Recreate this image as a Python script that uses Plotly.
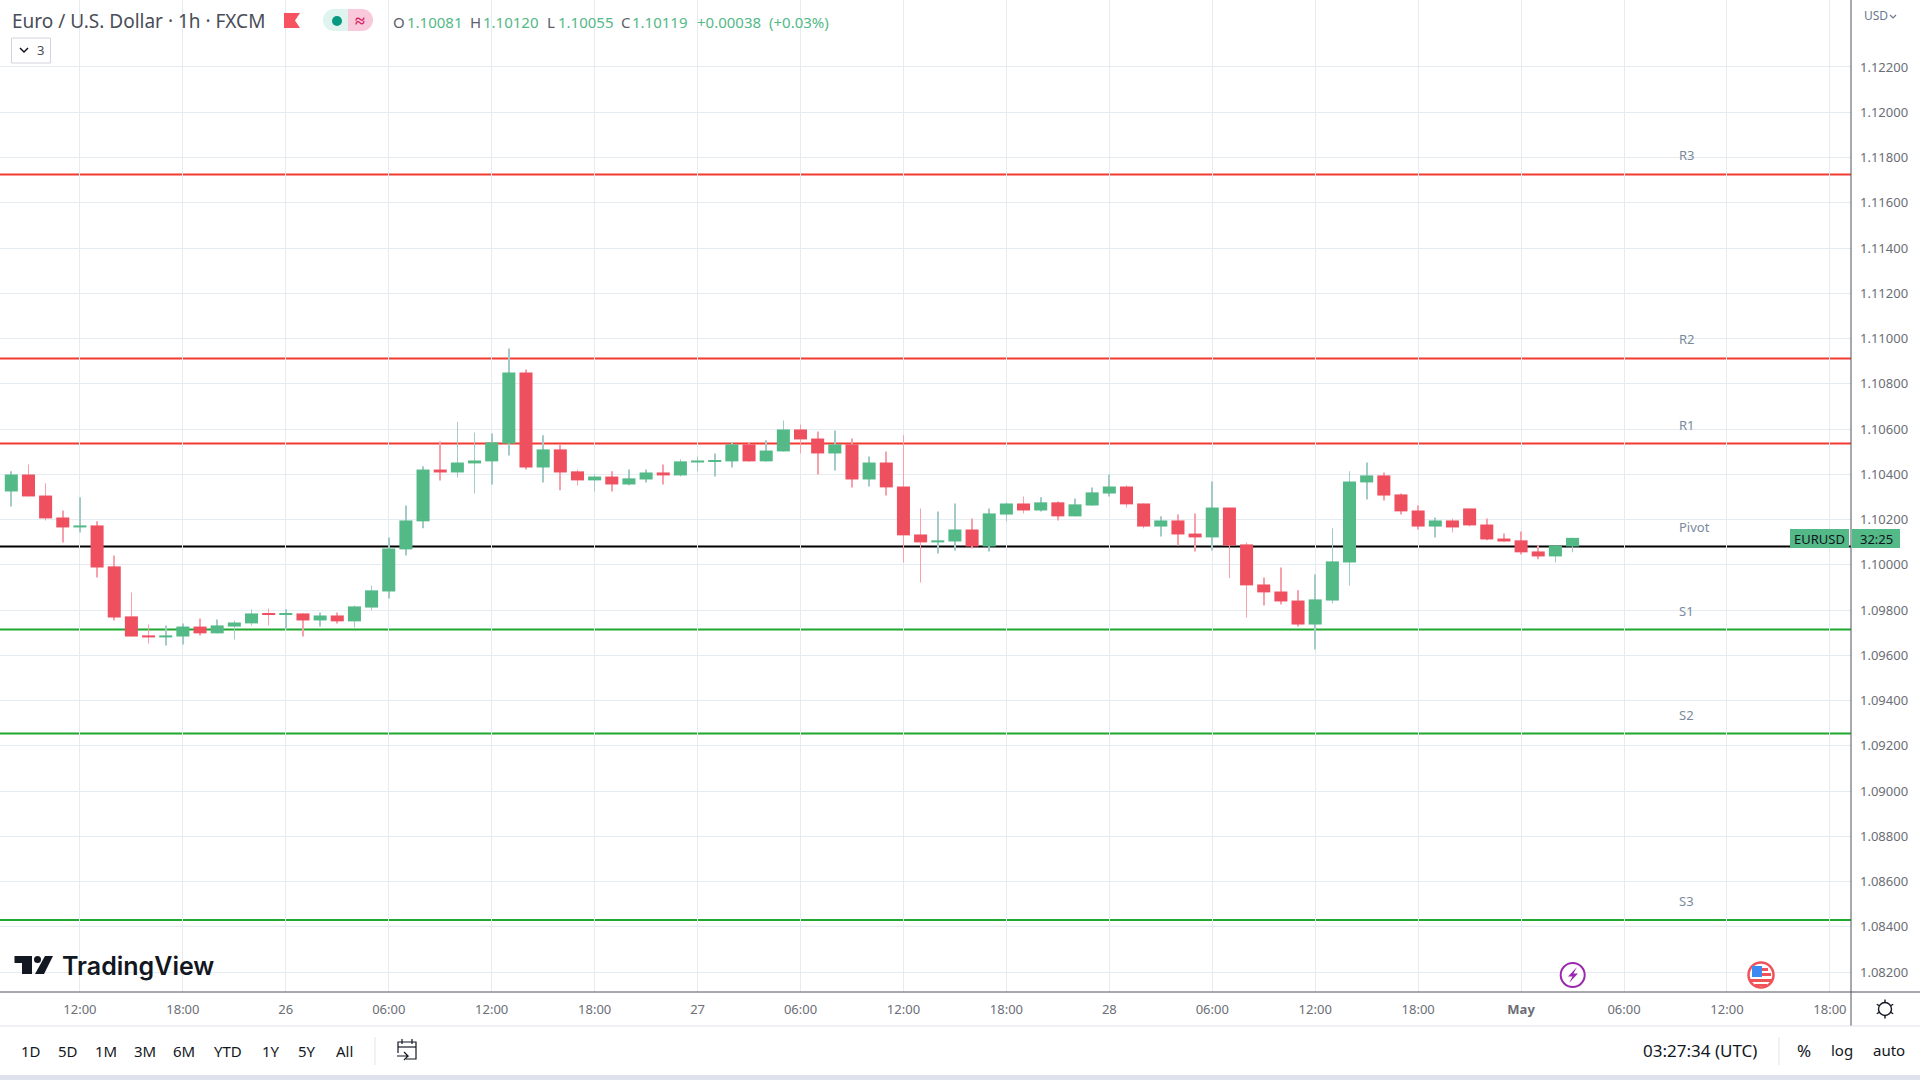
import math
import plotly.graph_objects as go

# EURUSD 1h candles
opens = [1.10324, 1.10399, 1.10306, 1.10209, 1.10165, 1.10174, 1.09993, 1.09772, 1.09688, 1.09679,
         1.09683, 1.09727, 1.09697, 1.09727, 1.09741, 1.09785, 1.09780, 1.09785, 1.09754, 1.09776,
         1.09750, 1.09811, 1.09882, 1.10068, 1.10192, 1.10421, 1.10408, 1.10448, 1.10457, 1.10536,
         1.10850, 1.10430, 1.10510, 1.10413, 1.10373, 1.10390, 1.10355, 1.10377, 1.10408, 1.10395,
         1.10452, 1.10457, 1.10457, 1.10532, 1.10457, 1.10501, 1.10598, 1.10558, 1.10492, 1.10532,
         1.10377, 1.10452, 1.10346, 1.10134, 1.10099, 1.10103, 1.10156, 1.10081, 1.10222, 1.10271,
         1.10240, 1.10276, 1.10214, 1.10262, 1.10315, 1.10346, 1.10271, 1.10169, 1.10196, 1.10138,
         1.10121, 1.10253, 1.10090, 1.09913, 1.09882, 1.09842, 1.09736, 1.09842, 1.10010, 1.10364,
         1.10395, 1.10311, 1.10240, 1.10169, 1.10196, 1.10249, 1.10178, 1.10116, 1.10108, 1.10059,
         1.10037, 1.10081]
highs = [1.10413, 1.10443, 1.10360, 1.10240, 1.10298, 1.10192, 1.10041, 1.09878, 1.09736, 1.09732,
         1.09741, 1.09763, 1.09758, 1.09754, 1.09803, 1.09807, 1.09803, 1.09785, 1.09789, 1.09789,
         1.09820, 1.09909, 1.10121, 1.10262, 1.10435, 1.10545, 1.10631, 1.10585, 1.10580, 1.10956,
         1.10863, 1.10572, 1.10532, 1.10421, 1.10399, 1.10413, 1.10421, 1.10421, 1.10443, 1.10466,
         1.10479, 1.10492, 1.10541, 1.10541, 1.10550, 1.10638, 1.10620, 1.10589, 1.10594, 1.10558,
         1.10479, 1.10501, 1.10572, 1.10249, 1.10236, 1.10271, 1.10205, 1.10249, 1.10276, 1.10302,
         1.10298, 1.10280, 1.10293, 1.10342, 1.10399, 1.10351, 1.10271, 1.10214, 1.10222, 1.10227,
         1.10368, 1.10253, 1.10099, 1.09944, 1.09988, 1.09887, 1.09957, 1.10161, 1.10413, 1.10452,
         1.10408, 1.10315, 1.10262, 1.10209, 1.10205, 1.10249, 1.10205, 1.10138, 1.10147, 1.10085,
         1.10085, 1.10120]
lows = [1.10258, 1.10302, 1.10196, 1.10099, 1.10143, 1.09944, 1.09754, 1.09683, 1.09652, 1.09643,
        1.09648, 1.09688, 1.09697, 1.09670, 1.09732, 1.09732, 1.09714, 1.09683, 1.09727, 1.09741,
        1.09723, 1.09798, 1.09851, 1.10041, 1.10161, 1.10373, 1.10386, 1.10315, 1.10355, 1.10483,
        1.10421, 1.10364, 1.10329, 1.10351, 1.10324, 1.10324, 1.10351, 1.10364, 1.10355, 1.10390,
        1.10413, 1.10390, 1.10430, 1.10457, 1.10457, 1.10501, 1.10492, 1.10399, 1.10417, 1.10342,
        1.10346, 1.10306, 1.10010, 1.09922, 1.10050, 1.10063, 1.10072, 1.10059, 1.10192, 1.10227,
        1.10236, 1.10196, 1.10214, 1.10262, 1.10302, 1.10253, 1.10161, 1.10125, 1.10085, 1.10059,
        1.10063, 1.09940, 1.09767, 1.09820, 1.09825, 1.09727, 1.09626, 1.09829, 1.09909, 1.10289,
        1.10284, 1.10222, 1.10156, 1.10121, 1.10143, 1.10169, 1.10108, 1.10103, 1.10046, 1.10024,
        1.10010, 1.10055]
closes = [1.10399, 1.10302, 1.10205, 1.10165, 1.10174, 1.09988, 1.09767, 1.09683, 1.09679, 1.09688,
          1.09727, 1.09697, 1.09732, 1.09745, 1.09785, 1.09780, 1.09785, 1.09754, 1.09776, 1.09750,
          1.09816, 1.09887, 1.10072, 1.10196, 1.10421, 1.10408, 1.10452, 1.10461, 1.10541, 1.10850,
          1.10430, 1.10510, 1.10408, 1.10373, 1.10390, 1.10355, 1.10382, 1.10408, 1.10395, 1.10457,
          1.10461, 1.10461, 1.10532, 1.10457, 1.10505, 1.10598, 1.10554, 1.10492, 1.10532, 1.10377,
          1.10452, 1.10342, 1.10130, 1.10099, 1.10108, 1.10156, 1.10081, 1.10227, 1.10271, 1.10240,
          1.10276, 1.10214, 1.10267, 1.10320, 1.10346, 1.10267, 1.10169, 1.10196, 1.10134, 1.10121,
          1.10253, 1.10085, 1.09909, 1.09878, 1.09838, 1.09736, 1.09847, 1.10015, 1.10368, 1.10395,
          1.10306, 1.10236, 1.10169, 1.10196, 1.10165, 1.10174, 1.10112, 1.10103, 1.10055, 1.10037,
          1.10085, 1.10119]

level_names = ['R3', 'R2', 'R1', 'Pivot', 'S1', 'S2', 'S3']
level_values = [1.11725, 1.10912, 1.10536, 1.10081, 1.09714, 1.09254, 1.08430]
level_colors = ['#f23a31', '#f23a31', '#f23a31', '#000000', '#1ea82f', '#1ea82f', '#1ea82f']

time_tick_pos = [4, 10, 16, 22, 28, 34, 40, 46, 52, 58, 64, 70, 76, 82, 88, 94, 100, 106]
time_tick_text = ['12:00', '18:00', '26', '06:00', '12:00', '18:00', '27', '06:00', '12:00', '18:00',
                  '28', '06:00', '12:00', '18:00', '<b>May</b>', '06:00', '12:00', '18:00']
price_ticks = [1.082, 1.084, 1.086, 1.088, 1.090, 1.092, 1.094, 1.096, 1.098, 1.100, 1.102,
               1.104, 1.106, 1.108, 1.110, 1.112, 1.114, 1.116, 1.118, 1.120, 1.122]

UP, DOWN = '#53b987', '#ef5060'
UP_WICK, DOWN_WICK = '#a3c9c9', '#f7a1ad'
GRID = '#e4ecf1'
FONT = 'Noto Sans'
PLOT_W, PLOT_H = 1851, 992

idx = list(range(len(opens)))
is_up = [c >= o for o, c in zip(opens, closes)]

fig = go.Figure()
# wicks then bodies, plain bars so the wick can have its own paler colour
fig.add_trace(go.Bar(x=idx, base=lows, y=[h - l for h, l in zip(highs, lows)], width=0.04,
                     marker=dict(color=[UP_WICK if u else DOWN_WICK for u in is_up], line_width=0),
                     hoverinfo='skip'))
fig.add_trace(go.Bar(x=idx, base=[min(o, c) for o, c in zip(opens, closes)],
                     y=[abs(c - o) for o, c in zip(opens, closes)], width=0.76,
                     marker=dict(color=[UP if u else DOWN for u in is_up], line_width=0)))


def px(x):
    return x / PLOT_W


def py(y):
    return 1 - y / PLOT_H


def text(x, y, s, size=14, color='#131722', anchor='center', family=FONT, weight='normal'):
    fig.add_annotation(xref='paper', yref='paper', x=px(x), y=py(y), text=s, showarrow=False,
                       xanchor=anchor, yanchor='middle', borderpad=0,
                       font=dict(family=family, size=size, color=color, weight=weight))


def rect(x0, y0, x1, y1, fill, line=None, width=0):
    fig.add_shape(type='rect', xref='paper', yref='paper', x0=px(x0), x1=px(x1), y0=py(y0), y1=py(y1),
                  fillcolor=fill, line=dict(color=line or fill, width=width))


def seg(x0, y0, x1, y1, color, width=1):
    fig.add_shape(type='line', xref='paper', yref='paper', x0=px(x0), x1=px(x1), y0=py(y0), y1=py(y1),
                  line=dict(color=color, width=width))


def circle(cx, cy, r, fill, line, width):
    fig.add_shape(type='circle', xref='paper', yref='paper', x0=px(cx - r), x1=px(cx + r),
                  y0=py(cy - r), y1=py(cy + r), fillcolor=fill, line=dict(color=line, width=width))


def poly(points, fill, line=None, width=0, close=True):
    d = 'M ' + ' L '.join(f'{px(a):.6f},{py(b):.6f}' for a, b in points) + (' Z' if close else '')
    fig.add_shape(type='path', xref='paper', yref='paper', path=d, fillcolor=fill,
                  line=dict(color=line or 'rgba(0,0,0,0)', width=width))


# pivot levels sit under the candles
for name, val, col in zip(level_names, level_values, level_colors):
    fig.add_shape(type='line', xref='paper', yref='y', x0=0, x1=1, y0=val, y1=val, layer='below',
                  line=dict(color=col, width=2))
    fig.add_annotation(xref='paper', yref='y', x=px(1677), y=val, yshift=19, text=name, showarrow=False,
                       xanchor='left', yanchor='middle', font=dict(family=FONT, size=13, color='#7a8a9c'))

# panel lines and bottom strip
seg(0, 992, 1920, 992, '#50535e')
seg(1851, 0, 1851, 1026, '#50535e')
seg(0, 1026, 1920, 1026, '#e0e3eb')
rect(0, 1075, 1920, 1080, '#dfe2ec')
seg(375, 1037, 375, 1065, '#e0e3eb')
seg(1779, 1037, 1779, 1065, '#e0e3eb')

# header
text(11, 21, 'Euro / U.S. Dollar · 1h · FXCM', 19, '#4a4d57', 'left')
poly([(284, 13), (300, 13), (295, 20.5), (300, 28), (284, 28)], '#f7525f')
circle(334, 20, 11, '#dff3ef', '#dff3ef', 0)
rect(334, 9, 348, 31, '#dff3ef')
circle(362, 20, 11, '#f9c8da', '#f9c8da', 0)
rect(348, 9, 362, 31, '#f9c8da')
circle(337, 21, 5, '#089981', '#089981', 0)
text(360, 20, '≈', 18, '#d81b60', weight='bold')
ohlc_labels = [(391.5, 'O'), (469, 'H'), (546, 'L'), (620, 'C')]
ohlc_values = [(406, '1.10081'), (482, '1.10120'), (557, '1.10055'), (631, '1.10119'),
               (696, '+0.00038'), (768, '(+0.03%)')]
for x, s in ohlc_labels:
    text(x, 22, s, 15, '#5d606b', 'left')
for x, s in ohlc_values:
    text(x, 22, s, 15, UP, 'left')
rect(11.5, 38, 50.5, 63, '#ffffff', '#d1d4dc', 1)
poly([(20, 48), (24, 52), (28, 48)], 'rgba(0,0,0,0)', '#131722', 1.5, close=False)
text(40, 50, '3', 13, '#4a4d57')
text(1863, 16, 'USD', 12, '#6a7a90', 'left')
poly([(1890, 15), (1893, 18), (1896, 15)], 'rgba(0,0,0,0)', '#6a7a90', 1.2, close=False)

# last price tag
rect(1790, 529, 1849, 548, UP)
rect(1852, 529, 1900, 548, UP)
text(1819.5, 539, 'EURUSD', 13, '#131722')
text(1876, 539, '32:25', 13, '#131722')

# TradingView logo
poly([(14.5, 956), (32, 956), (32, 974), (22, 974), (22, 963), (14.5, 963)], '#131722')
circle(37.5, 959.5, 3.5, '#131722', '#131722', 0)
poly([(45, 956), (53, 956), (44, 974), (35, 974)], '#131722')
text(61, 966, 'TradingView', 25, '#131722', 'left', 'Inter', weight=600)

# event markers
circle(1572.7, 975, 12, '#ffffff', '#9c27b0', 2)
poly([(1577, 967), (1568, 976.5), (1572.5, 976.5), (1569, 983), (1578, 973.5), (1573.5, 973.5)], '#9c27b0')
circle(1761, 975, 12.5, '#ffffff', '#f0525a', 2.5)
rect(1752, 966, 1762, 977, '#3d8bf0')
rect(1762, 968, 1768, 971, '#f0525a')
rect(1762, 973, 1771, 976, '#f0525a')
rect(1750, 979, 1772, 982, '#f0525a')
rect(1755, 984, 1767, 986, '#f0525a')

# settings gear
circle(1885, 1009, 6.5, '#ffffff', '#131722', 1.4)
for k in range(6):
    a = math.radians(90 + k * 60)
    seg(1885 + 6.5 * math.cos(a), 1009 + 6.5 * math.sin(a), 1885 + 9.5 * math.cos(a), 1009 + 9.5 * math.sin(a),
        '#131722', 1.4)

# bottom toolbar
range_buttons = ['1D', '5D', '1M', '3M', '6M', 'YTD', '1Y', '5Y', 'All']
range_button_x = [30.6, 67.7, 106, 145, 184, 228, 271, 307, 344]
for x, s in zip(range_button_x, range_buttons):
    text(x, 1050.5, s, 15)
poly([(398, 1053), (398, 1042), (416, 1042), (416, 1059), (406, 1059)], 'rgba(0,0,0,0)', '#131722', 1.2, close=False)
seg(398, 1047, 416, 1047, '#131722', 1.2)
seg(402, 1039, 402, 1044, '#131722', 1.2)
seg(412, 1039, 412, 1044, '#131722', 1.2)
poly([(397, 1056), (408, 1056), (404, 1052), (408, 1056), (404, 1060)], 'rgba(0,0,0,0)', '#131722', 1.2, close=False)
text(1700, 1050, '03:27:34 (UTC)', 17)
text(1804, 1050, '%', 17)
text(1842, 1050, 'log', 15)
text(1889, 1050, 'auto', 15)

fig.update_layout(
    width=1920, height=1080, margin=dict(l=0, r=69, t=0, b=88), showlegend=False,
    plot_bgcolor='#ffffff', paper_bgcolor='#ffffff', barmode='overlay',
    font=dict(family=FONT, size=13, color='#6b6e76'),
    xaxis=dict(range=[-0.659, 107.23], tickmode='array', tickvals=time_tick_pos, ticktext=time_tick_text,
               showgrid=True, gridcolor=GRID, gridwidth=1, zeroline=False, ticks='', ticklabelstandoff=8),
    yaxis=dict(side='right', range=[1.08112, 1.12496], tickmode='array', tickvals=price_ticks,
               ticktext=[f'{p:.5f}' for p in price_ticks], showgrid=True, gridcolor=GRID, gridwidth=1,
               zeroline=False, ticks='', ticklabelstandoff=8),
)

fig.write_html('out.html', config=dict(displayModeBar=False),
               post_script="document.body.style.margin='0';document.body.style.overflow='hidden';")
